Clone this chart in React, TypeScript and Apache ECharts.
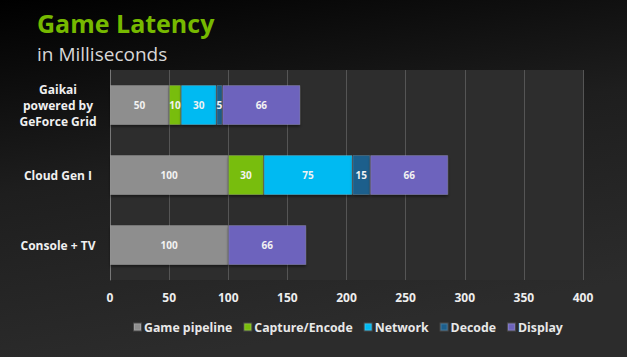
import React, { useEffect, useRef } from "react";
import * as echarts from "echarts";

const categories = ["Gaikai\npowered by\nGeForce Grid", "Cloud Gen I", "Console + TV"];
const seriesNames = ["Game pipeline", "Capture/Encode", "Network", "Decode", "Display"];
const gamePipeline = [50, 100, 100];
const captureEncode = [10, 30, null];
const network = [30, 75, null];
const decode = [5, 15, null];
const display = [66, 66, 66];
const xTicks = [0, 50, 100, 150, 200, 250, 300, 350, 400];
const colors = ["#8e8e8e", "#78bd0a", "#00baf2", "#1b5e8c", "#6d64bd"];

export default function App() {
  const ref = useRef<HTMLDivElement>(null);
  useEffect(() => {
    document.body.style.margin = "0";
    const chart = echarts.init(ref.current!, null, { renderer: "svg" });
    const values = [gamePipeline, captureEncode, network, decode, display];
    const font = "'Open Sans', 'DejaVu Sans', sans-serif";
    chart.setOption({
      animation: false,
      backgroundColor: {
        type: "linear", x: 0, y: 0, x2: 0.3, y2: 1,
        colorStops: [
          { offset: 0, color: "#000000" },
          { offset: 0.5, color: "#1e1e1e" },
          { offset: 1, color: "#2c2c2c" },
        ],
      },
      title: [
        {
          text: "Game Latency",
          left: 37,
          top: 10,
          padding: 0,
          textStyle: { color: "#76b900", fontSize: 25, fontWeight: "bold", fontFamily: font },
        },
        {
          text: "in Milliseconds",
          left: 37,
          top: 44,
          padding: 0,
          textStyle: { color: "#d8d8d8", fontSize: 19, fontWeight: "normal", fontFamily: font },
        },
      ],
      legend: {
        data: seriesNames,
        left: 128,
        top: 316,
        itemWidth: 7,
        itemHeight: 7,
        itemGap: 11,
        icon: "rect",
        textStyle: { color: "#e8e8e8", fontSize: 12.3, fontWeight: "bold", fontFamily: font, padding: [0, 0, 0, -2] },
      },
      grid: {
        left: 110, right: 44, top: 70, bottom: 77,
        show: true, backgroundColor: "#2d2d2d", borderWidth: 0,
      },
      xAxis: {
        type: "value",
        min: 0, max: 400, interval: 50,
        axisLine: { show: false },
        axisTick: { show: false },
        splitLine: { show: true, lineStyle: { color: "#555555", width: 1 } },
        axisLabel: {
          color: "#eeeeee", fontSize: 12, fontWeight: "bold", fontFamily: font, margin: 11,
          formatter: (v: number) => (xTicks.includes(v) ? String(v) : ""),
        },
      },
      yAxis: {
        type: "category",
        data: categories,
        inverse: true,
        axisLine: { show: true, lineStyle: { color: "#777777", width: 1 } },
        axisTick: { show: false },
        axisLabel: {
          color: "#f0f0f0", fontSize: 12, fontWeight: "bold", fontFamily: font,
          align: "center", margin: 52, lineHeight: 16,
        },
      },
      series: seriesNames.map((name, i) => ({
        name,
        type: "bar",
        stack: "total",
        data: values[i],
        barWidth: 40,
        itemStyle: {
          color: colors[i],
          borderColor: "rgba(255,255,255,0.15)",
          borderWidth: 1,
          shadowColor: "rgba(0,0,0,0.5)",
          shadowBlur: 3,
          shadowOffsetY: 2,
        },
        label: {
          show: true,
          position: "inside",
          color: "#f2f2f2",
          fontSize: 10,
          fontWeight: "bold",
          fontFamily: font,
          formatter: (p: any) => (p.value ? String(p.value) : ""),
        },
      })),
    });
    return () => chart.dispose();
  }, []);
  return <div ref={ref} style={{ width: 627, height: 357 }} />;
}
